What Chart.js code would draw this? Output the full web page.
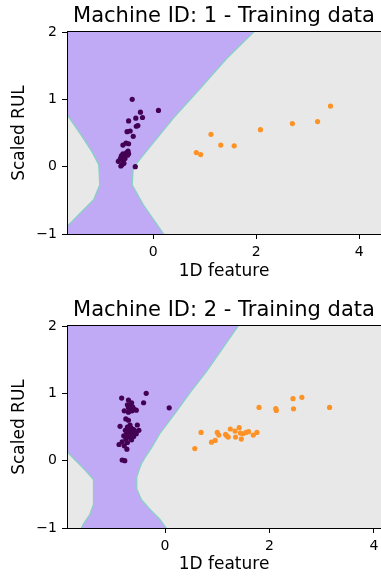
<!DOCTYPE html>
<html>
<head>
<meta charset="utf-8">
<script src="https://cdn.jsdelivr.net/npm/chart.js@4.4.1/dist/chart.umd.min.js"></script>
<style>
  html, body { margin: 0; padding: 0; background: #fff; overflow: hidden; }
  .panel { position: absolute; left: 0; width: 381px; }
</style>
</head>
<body>
<div class="panel" style="top:0;height:294px"><canvas id="chart1" width="381" height="294"></canvas></div>
<div class="panel" style="top:294px;height:283px"><canvas id="chart2" width="381" height="283"></canvas></div>
<script>
// tick values shared by both panels
const yTicks = [-1, 0, 1, 2];
const xTicks = [0, 2, 4];

// Machine 1 - class 0 (purple) and class 1 (orange) samples
const m1PurpleX = [-0.41, 0.10, -0.25, -0.21, -0.34, -0.48, -0.30, -0.33, -0.45, -0.51, -0.39, -0.53, -0.48, -0.59, -0.49,
  -0.59, -0.52, -0.62, -0.56, -0.48, -0.64, -0.68, -0.59, -0.61, -0.57, -0.35, -0.63, -0.55, -0.50];
const m1PurpleY = [1.00, 0.835, 0.81, 0.73, 0.72, 0.68, 0.61, 0.60, 0.53, 0.52, 0.45, 0.35, 0.34, 0.32, 0.23,
  0.19, 0.21, 0.16, 0.15, 0.19, 0.12, 0.08, 0.10, 0.03, 0.05, 0.00, 0.01, 0.12, 0.17];
const m1OrangeX = [0.835, 0.92, 1.12, 1.31, 1.57, 2.08, 2.70, 3.19, 3.44];
const m1OrangeY = [0.21, 0.18, 0.48, 0.32, 0.31, 0.55, 0.64, 0.67, 0.90];

// Machine 2 samples
const m2PurpleX = [-0.36, -0.83, -0.70, -0.41, -0.64, -0.72, -0.66, -0.62, -0.70, -0.60, -0.67, -0.78, -0.63, -0.55, -0.70,
  0.08, -0.75, -0.70, -0.86, -0.53, -0.50, -0.67, -0.72, -0.64, -0.60, -0.76, -0.68, -0.56, -0.73, -0.62,
  -0.66, -0.79, -0.70, -0.60, -0.75, -0.64, -0.82, -0.72, -0.88, -0.78, -0.73, -0.82, -0.77, -0.55, -0.69, -0.74];
const m2PurpleY = [1.00, 0.93, 0.90, 0.86, 0.86, 0.83, 0.82, 0.80, 0.79, 0.77, 0.76, 0.74, 0.74, 0.75, 0.72,
  0.785, 0.62, 0.60, 0.51, 0.53, 0.45, 0.53, 0.50, 0.48, 0.46, 0.45, 0.44, 0.43, 0.41, 0.40,
  0.38, 0.37, 0.35, 0.36, 0.32, 0.31, 0.28, 0.27, 0.24, 0.22, 0.17, 0.01, 0.00, 0.40, 0.48, 0.38];
const m2OrangeX = [0.57, 0.69, 0.89, 0.96, 1.00, 1.03, 1.16, 1.18, 1.21, 1.25, 1.34, 1.35, 1.42, 1.44, 1.46, 1.49,
  1.55, 1.60, 1.69, 1.76, 1.80, 2.12, 2.13, 2.45, 2.46, 2.62, 3.15];
const m2OrangeY = [0.18, 0.42, 0.275, 0.30, 0.42, 0.38, 0.39, 0.37, 0.35, 0.47, 0.44, 0.35, 0.49, 0.41, 0.32, 0.40,
  0.42, 0.43, 0.38, 0.42, 0.79, 0.775, 0.745, 0.92, 0.77, 0.94, 0.79];

// decision boundary of the purple region, read top to bottom
const m1RightX = [1.95, 1.43, 0.91, 0.39, 0.07, -0.25, -0.39, -0.41, -0.19, 0.20];
const m1RightY = [2.00, 1.61, 1.16, 0.72, 0.42, 0.12, -0.02, -0.27, -0.57, -1.00];
const m1LeftX = [-1.70, -1.42, -1.19, -1.06, -1.04, -1.16, -1.42, -1.64, -1.70];
const m1LeftY = [0.80, 0.49, 0.22, 0.03, -0.27, -0.49, -0.69, -0.86, -0.90];

const m2RightX = [1.40, 0.80, 0.48, 0.20, -0.10, -0.25, -0.38, -0.46, -0.54, -0.54, -0.45, -0.29, -0.10, 0.02];
const m2RightY = [2.00, 1.33, 1.01, 0.71, 0.40, 0.20, 0.05, -0.06, -0.24, -0.42, -0.58, -0.72, -0.87, -1.00];
const m2LeftX = [-1.90, -1.72, -1.53, -1.37, -1.37, -1.44, -1.57, -1.63];
const m2LeftY = [0.15, 0.01, -0.14, -0.28, -0.65, -0.80, -0.95, -1.05];

const PURPLE = '#440154';
const ORANGE = '#fd9226';
const REGION = '#c0aaf5';
const EDGE = '#86d2c2';
const FONT = 'DejaVu Sans';

function zip(xs, ys) {
  return xs.map((x, i) => ({ x, y: ys[i] }));
}

// closed outline of the purple area; the extra corners sit outside the axes
function regionPolygon(rx, ry, lx, ly) {
  const pts = [{ x: rx[0], y: 3 }];
  rx.forEach((x, i) => pts.push({ x, y: ry[i] }));
  pts.push({ x: rx[rx.length - 1], y: -2 });
  pts.push({ x: -3, y: -2 });
  pts.push({ x: -3, y: ly[ly.length - 1] });
  for (let i = lx.length - 1; i >= 0; i--) pts.push({ x: lx[i], y: ly[i] });
  pts.push({ x: -3, y: ly[0] });
  pts.push({ x: -3, y: 3 });
  return pts;
}

const minus = v => (v < 0 ? '\u2212' + Math.abs(v) : String(v));

const framePlugin = {
  id: 'frame',
  beforeDatasetsDraw(chart) {
    const { ctx, chartArea: a } = chart;
    ctx.save();
    ctx.fillStyle = '#e8e8e8';
    ctx.fillRect(a.left, a.top, a.right - a.left, a.bottom - a.top);
    ctx.restore();
  },
  afterDatasetsDraw(chart) {
    const { ctx, chartArea: a } = chart;
    ctx.save();
    ctx.strokeStyle = '#000';
    ctx.lineWidth = 1;
    ctx.beginPath();
    ctx.moveTo(a.left, a.top - 0.5);
    ctx.lineTo(a.right, a.top - 0.5);
    ctx.stroke();
    ctx.restore();
  },
};

function makeChart(id, p) {
  return new Chart(document.getElementById(id), {
    type: 'scatter',
    data: {
      datasets: [
        { data: zip(p.px, p.py), backgroundColor: PURPLE, pointRadius: 2.6, borderWidth: 0, pointHoverRadius: 2.6, order: 0 },
        { data: zip(p.ox, p.oy), backgroundColor: ORANGE, pointRadius: 2.6, borderWidth: 0, pointHoverRadius: 2.6, order: 0 },
        {
          type: 'line',
          data: regionPolygon(p.rx, p.ry, p.lx, p.ly),
          fill: 'shape',
          backgroundColor: REGION,
          borderColor: EDGE,
          borderWidth: 1.2,
          pointRadius: 0,
          tension: 0,
          order: 1,
        },
      ],
    },
    options: {
      responsive: false,
      animation: false,
      devicePixelRatio: 1,
      events: [],
      layout: { autoPadding: false, padding: { left: 0, right: 0, top: 0, bottom: p.padBottom } },
      plugins: {
        legend: { display: false },
        tooltip: { enabled: false },
        title: {
          display: true,
          text: p.title,
          fullSize: false,
          color: '#000',
          font: { family: FONT, size: 21, weight: 'normal' },
          padding: { top: 4, bottom: 2.8 },
        },
      },
      scales: {
        x: {
          type: 'linear',
          min: p.xMin,
          max: p.xMax,
          afterBuildTicks: s => { s.ticks = xTicks.map(v => ({ value: v })); },
          afterFit: s => { s.height = p.xAxisHeight; s.paddingRight = 0; },
          grid: { drawOnChartArea: false, tickLength: 5, color: '#000', tickColor: '#000' },
          border: { color: '#000', width: 1, z: 1 },
          ticks: { color: '#000', font: { family: FONT, size: 14 }, padding: 5, maxRotation: 0, callback: minus },
          title: {
            display: true,
            text: '1D feature',
            color: '#000',
            font: { family: FONT, size: 17 },
            padding: { top: 0, bottom: 2 },
          },
        },
        y: {
          type: 'linear',
          min: -1,
          max: 2,
          afterBuildTicks: s => { s.ticks = yTicks.map(v => ({ value: v })); },
          afterFit: s => { s.width = 67; },
          grid: { drawOnChartArea: false, tickLength: 5, color: '#000', tickColor: '#000' },
          border: { color: '#000', width: 1, z: 1 },
          ticks: { color: '#000', font: { family: FONT, size: 14 }, padding: 5, callback: minus },
          title: {
            display: true,
            text: 'Scaled RUL',
            color: '#000',
            font: { family: FONT, size: 17 },
            padding: { top: 9, bottom: 0 },
          },
        },
      },
    },
    plugins: [framePlugin],
  });
}

makeChart('chart1', {
  title: 'Machine ID: 1 - Training data',
  xMin: -1.676, xMax: 4.421, xAxisHeight: 50, padBottom: 10,
  px: m1PurpleX, py: m1PurpleY, ox: m1OrangeX, oy: m1OrangeY,
  rx: m1RightX, ry: m1RightY, lx: m1LeftX, ly: m1LeftY,
});

makeChart('chart2', {
  title: 'Machine ID: 2 - Training data',
  xMin: -1.876, xMax: 4.134, xAxisHeight: 49, padBottom: 0,
  px: m2PurpleX, py: m2PurpleY, ox: m2OrangeX, oy: m2OrangeY,
  rx: m2RightX, ry: m2RightY, lx: m2LeftX, ly: m2LeftY,
});
</script>
</body>
</html>
